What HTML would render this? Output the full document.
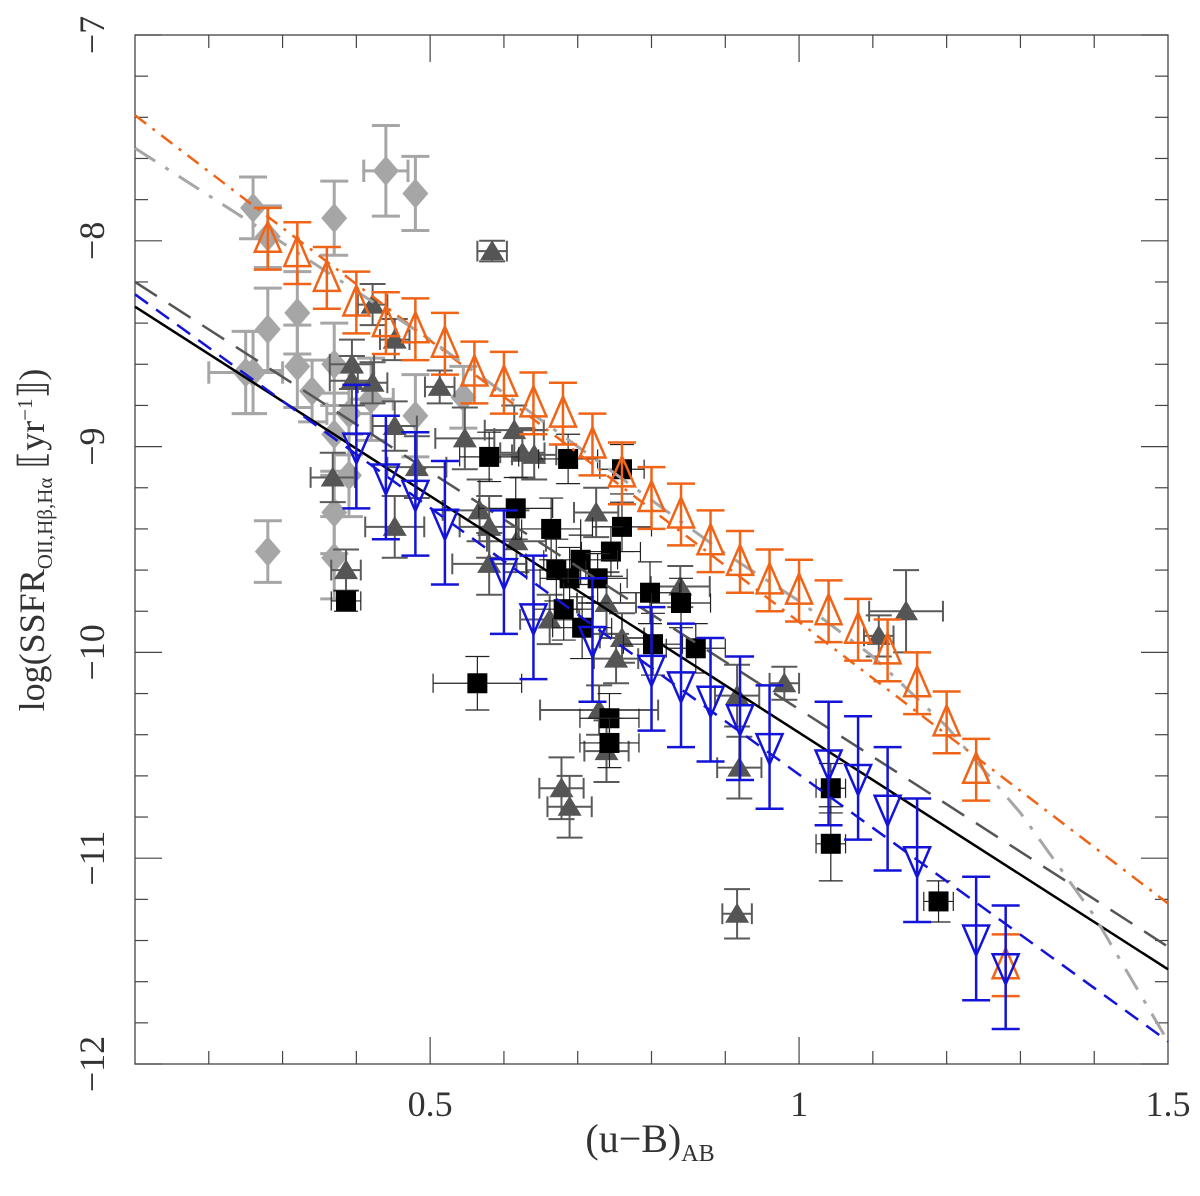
<!DOCTYPE html>
<html><head><meta charset="utf-8"><style>
html,body{margin:0;padding:0;background:#fff}
svg{display:block}
text{font-family:"Liberation Serif","DejaVu Serif",serif;fill:#333}
</style></head><body>
<svg id="chart" width="1200" height="1196" viewBox="0 0 1200 1196" xmlns="http://www.w3.org/2000/svg">
<g id="axes"></g>
<g id="marks"></g>
<text x="650" y="1152" text-anchor="middle" font-size="40">(u−B)<tspan font-size="24" dy="9">AB</tspan></text>
<text transform="translate(44,540) rotate(-90)" text-anchor="middle" font-size="36">log(SSFR<tspan font-size="21" dy="8">OII,Hβ,Hα</tspan><tspan dy="-8"> ⟦yr</tspan><tspan font-size="21" dy="-12">−1</tspan><tspan dy="12">⟧)</tspan></text>
</svg>
<script>
// ---- data ----
const orangeX=[0.28,0.32,0.36,0.40,0.44,0.48,0.52,0.56,0.60,0.64,0.68,0.72,0.76,0.80,0.84,0.88,0.92,0.96,1.00,1.04,1.08,1.12,1.16,1.20,1.24,1.28];
const orangeY=[-7.99,-8.06,-8.18,-8.30,-8.40,-8.43,-8.50,-8.64,-8.69,-8.79,-8.84,-8.99,-9.13,-9.25,-9.33,-9.46,-9.56,-9.65,-9.70,-9.80,-9.89,-9.99,-10.15,-10.34,-10.57,-11.52];
const orangeErr=[0.15,0.15,0.15,0.15,0.15,0.15,0.15,0.15,0.15,0.15,0.15,0.15,0.15,0.15,0.15,0.15,0.15,0.15,0.15,0.15,0.15,0.15,0.15,0.15,0.15,0.15];
const blueX=[0.40,0.44,0.48,0.52,0.60,0.64,0.72,0.80,0.84,0.88,0.92,0.96,1.04,1.08,1.12,1.16,1.24,1.28];
const blueY=[-9.00,-9.15,-9.23,-9.37,-9.61,-9.83,-9.94,-10.08,-10.16,-10.23,-10.32,-10.46,-10.54,-10.61,-10.76,-11.01,-11.39,-11.53];
const blueErr=[0.30,0.30,0.30,0.30,0.30,0.30,0.30,0.30,0.30,0.30,0.30,0.30,0.30,0.30,0.30,0.30,0.30,0.30];
const diamondX=[0.26,0.28,0.37,0.44,0.48,0.32,0.28,0.25,0.26,0.32,0.37,0.34,0.42,0.39,0.48,0.545,0.37,0.39,0.37,0.28,0.37];
const diamondY=[-7.84,-7.98,-7.89,-7.66,-7.77,-8.35,-8.43,-8.64,-8.64,-8.61,-8.60,-8.73,-8.77,-8.84,-8.85,-8.76,-8.94,-9.14,-9.32,-9.51,-9.54];
const diamondYErr=[0.15,0.15,0.18,0.22,0.18,0.2,0.2,0.2,0.2,0.2,0.2,0.15,0.2,0.2,0.2,0.15,0.2,0.2,0.2,0.15,0.2];
const diamondXErr=[0,0,0,0.03,0,0,0,0.05,0,0,0,0,0.03,0.03,0,0,0,0,0,0,0];
const triX=[0.584,0.422,0.452,0.394,0.394,0.422,0.513,0.452,0.547,0.614,0.625,0.641,0.368,0.482,0.452,0.386,0.567,0.580,0.617,0.580,0.725,0.839,0.739,0.662,0.760,0.752,0.729,0.739,0.916,0.919,0.678,0.689,1.145,1.108,0.980,0.916];
const triY=[-8.05,-8.31,-8.48,-8.60,-8.68,-8.69,-8.71,-8.90,-8.96,-8.92,-9.03,-9.04,-9.15,-9.10,-9.39,-9.60,-9.31,-9.39,-9.46,-9.57,-9.32,-9.68,-9.76,-9.84,-9.93,-10.03,-10.28,-10.48,-10.21,-10.56,-10.66,-10.75,-9.80,-9.92,-10.15,-11.27];
const triYErr=[0.05,0.1,0.1,0.12,0.12,0.1,0.08,0.12,0.15,0.12,0.12,0.12,0.12,0.15,0.15,0.1,0.15,0.15,0.15,0.15,0.12,0.1,0.15,0.12,0.12,0.12,0.12,0.15,0.15,0.15,0.15,0.15,0.2,0.1,0.08,0.12];
const triXErr=[0.02,0.02,0.02,0.03,0.03,0.02,0.02,0.03,0.04,0.04,0.03,0.03,0.03,0.04,0.04,0.02,0.05,0.04,0.04,0.05,0.03,0.04,0.04,0.04,0.03,0.03,0.08,0.03,0.03,0.03,0.03,0.03,0.05,0.02,0.02,0.02];
const sqX=[0.580,0.687,0.760,0.616,0.664,0.760,0.745,0.704,0.671,0.689,0.727,0.798,0.840,0.681,0.706,0.802,0.860,0.564,0.386,0.743,0.743,1.043,1.043,1.189];
const sqY=[-9.05,-9.06,-9.11,-9.30,-9.40,-9.39,-9.51,-9.55,-9.60,-9.64,-9.64,-9.71,-9.76,-9.79,-9.88,-9.96,-9.98,-10.15,-9.75,-10.32,-10.44,-10.66,-10.93,-11.21];
const sqYErr=[0.12,0.12,0.12,0.15,0.15,0.12,0.12,0.12,0.15,0.15,0.12,0.15,0.12,0.15,0.15,0.15,0.12,0.13,0.05,0.12,0.12,0.12,0.18,0.1];
const sqXErr=[0.04,0.04,0.03,0.05,0.04,0.04,0.04,0.05,0.04,0.04,0.04,0.04,0.04,0.04,0.04,0.04,0.04,0.06,0.02,0.04,0.04,0.02,0.02,0.02];
const fitX=[0.1,1.5];
const orangeFitY=[-7.39,-11.22];
const darkFitY=[-8.20,-11.43];
const blackFitY=[-8.32,-11.54];
const blueFitY=[-8.26,-11.89];
const grayCurveX=[0.1,0.3,0.5,0.7,0.9,1.0,1.1,1.2,1.3,1.4,1.5];
const grayCurveY=[-7.55,-8.01,-8.48,-9.00,-9.52,-9.75,-10.02,-10.36,-10.78,-11.28,-11.89];
const xTicks=[0.5,1,1.5];
const xTickLabels=["0.5","1","1.5"];
const yTicks=[-7,-8,-9,-10,-11,-12];
const yTickLabels=["−7","−8","−9","−10","−11","−12"];

// ---- scales ----
const L=135,R=1168,T=35,B=1064;
const xs=v=>L+(v-0.1)/1.4*(R-L);
const ys=v=>T+(-7-v)/5*(B-T);
const NS="http://www.w3.org/2000/svg";
function mk(tag,parent,attrs){const e=document.createElementNS(NS,tag);for(const k in attrs)e.setAttribute(k,attrs[k]);parent.appendChild(e);return e;}
const axes=document.getElementById('axes'),marks=document.getElementById('marks');

const fr=mk('rect',axes,{x:L,y:T,width:R-L,height:B-T,fill:'none',stroke:'#444','stroke-width':1.3});


for(let i=2;i<=14;i++){const v=i/10;const x=xs(v);const major=Math.abs(v*2-Math.round(v*2))<1e-6;const len=major?27:13;
 const t1=mk('line',axes,{x1:x,x2:x,y1:B,y2:B-len,stroke:'#444','stroke-width':1.2});
 const t2=mk('line',axes,{x1:x,x2:x,y1:T,y2:T+len,stroke:'#444','stroke-width':1.2});}
xTicks.forEach((v,i)=>{const t=mk('text',axes,{x:xs(v),y:1116,'text-anchor':'middle','font-size':36});t.textContent=xTickLabels[i];
 });
for(let i=0;i<=25;i++){const v=-7-i*0.2;const y=ys(v);const major=i%5===0;const len=major?27:13;
 const t1=mk('line',axes,{x1:L,x2:L+len,y1:y,y2:y,stroke:'#444','stroke-width':1.2});
 const t2=mk('line',axes,{x1:R,x2:R-len,y1:y,y2:y,stroke:'#444','stroke-width':1.2});}
yTicks.forEach((v,i)=>{const y=ys(v);const t=mk('text',axes,{transform:`translate(104,${y}) rotate(-90)`,'text-anchor':'middle','font-size':36});t.textContent=yTickLabels[i];
 });

function errbar(g,x,y,xe,ye,col,w,cap){
 if(ye>0){const y1=ys(y+ye),y2=ys(y-ye),cx=xs(x);
  mk('line',g,{x1:cx,x2:cx,y1:y1,y2:y2,stroke:col,'stroke-width':w});
  mk('line',g,{x1:cx-cap,x2:cx+cap,y1:y1,y2:y1,stroke:col,'stroke-width':w});
  mk('line',g,{x1:cx-cap,x2:cx+cap,y1:y2,y2:y2,stroke:col,'stroke-width':w});}
 if(xe>0){const x1=xs(x-xe),x2=xs(x+xe),cy=ys(y);
  mk('line',g,{x1:x1,x2:x2,y1:cy,y2:cy,stroke:col,'stroke-width':w});
  mk('line',g,{x1:x1,x2:x1,y1:cy-cap*0.8,y2:cy+cap*0.8,stroke:col,'stroke-width':w});
  mk('line',g,{x1:x2,x2:x2,y1:cy-cap*0.8,y2:cy+cap*0.8,stroke:col,'stroke-width':w});}
}
diamondX.forEach((xv,i)=>{const g=mk('g',marks,{});
 
 
 errbar(g,xv,diamondY[i],diamondXErr[i],diamondYErr[i],'#a6a6a6',3,14);
 const x=xs(xv),y=ys(diamondY[i]);
 mk('polygon',g,{points:`${x},${y-15} ${x+13},${y} ${x},${y+15} ${x-13},${y}`,fill:'#a6a6a6'});});
triX.forEach((xv,i)=>{const g=mk('g',marks,{});
 
 
 errbar(g,xv,triY[i],triXErr[i],triYErr[i],'#5a5a5a',2,13);
 const x=xs(xv),y=ys(triY[i]);
 mk('polygon',g,{points:`${x},${y-11} ${x+12},${y+9} ${x-12},${y+9}`,fill:'#555'});});
sqX.forEach((xv,i)=>{const g=mk('g',marks,{});
 
 
 errbar(g,xv,sqY[i],sqXErr[i],sqYErr[i],'#222',1.2,12);
 const x=xs(xv),y=ys(sqY[i]);
 mk('rect',g,{x:x-10,y:y-10,width:20,height:20,fill:'#000'});});
function line(xa,ya,col,dash,w,name){const p=mk('polyline',marks,{points:xa.map((v,i)=>xs(v)+','+ys(ya[i])).join(' '),fill:'none',stroke:col,'stroke-width':w,'stroke-dasharray':dash});
 }
line(fitX,blackFitY,'#000','',2.5,'black-solid-fit');
line(fitX,darkFitY,'#555','26,14',2.5,'dark-gray-dashed-fit');
line(fitX,blueFitY,'#1414d8','16,10',2.5,'blue-dashed-fit');
line(fitX,orangeFitY,'#f06418','14,8,3,8',2.5,'orange-dash-dot-fit');
line(grayCurveX,grayCurveY,'#a6a6a6','24,12,4,12',3,'light-gray-dash-dot-fit');
orangeX.forEach((xv,i)=>{const g=mk('g',marks,{});
 
 
 errbar(g,xv,orangeY[i],0,orangeErr[i],'#f06418',2.5,14);
 const x=xs(xv),y=ys(orangeY[i]);
 mk('polygon',g,{points:`${x},${y-17} ${x+13},${y+13} ${x-13},${y+13}`,fill:'none',stroke:'#f06418','stroke-width':2.5});});
blueX.forEach((xv,i)=>{const g=mk('g',marks,{});
 
 
 errbar(g,xv,blueY[i],0,blueErr[i],'#1414d8',2.5,14);
 const x=xs(xv),y=ys(blueY[i]);
 mk('polygon',g,{points:`${x-13},${y-13} ${x+13},${y-13} ${x},${y+17}`,fill:'none',stroke:'#1414d8','stroke-width':2.5});});
</script>
</body></html>
